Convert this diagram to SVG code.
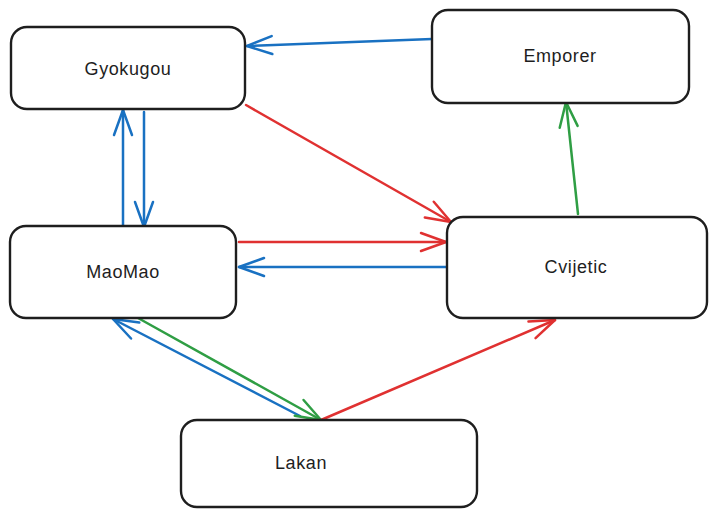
<svg xmlns="http://www.w3.org/2000/svg" width="717" height="518" viewBox="0 0 717 518">
<style>
.box{fill:#ffffff;stroke:#1e1e1e;stroke-width:2.4}
.lbl{font-family:"Liberation Sans","DejaVu Sans",sans-serif;font-size:18px;letter-spacing:0.6px;fill:#1e1e1e;text-anchor:middle;dominant-baseline:central}
.e{fill:none;stroke-width:2.5;stroke-linecap:round;stroke-linejoin:round}
.b{stroke:#1971c2;marker-end:url(#mb)}
.r{stroke:#e03131;marker-end:url(#mr)}
.g{stroke:#2f9e44;marker-end:url(#mg)}
</style>
<defs>
<marker id="mb" markerUnits="userSpaceOnUse" markerWidth="32" markerHeight="26" viewBox="-28 -13 32 26" refX="0" refY="0" orient="auto" overflow="visible"><path d="M-25,-9 L0,0 L-25,9" fill="none" stroke="#1971c2" stroke-width="2.5" stroke-linecap="round" stroke-linejoin="round"/></marker>
<marker id="mr" markerUnits="userSpaceOnUse" markerWidth="32" markerHeight="26" viewBox="-28 -13 32 26" refX="0" refY="0" orient="auto" overflow="visible"><path d="M-25,-9 L0,0 L-25,9" fill="none" stroke="#e03131" stroke-width="2.5" stroke-linecap="round" stroke-linejoin="round"/></marker>
<marker id="mg" markerUnits="userSpaceOnUse" markerWidth="32" markerHeight="26" viewBox="-28 -13 32 26" refX="0" refY="0" orient="auto" overflow="visible"><path d="M-25,-9 L0,0 L-25,9" fill="none" stroke="#2f9e44" stroke-width="2.5" stroke-linecap="round" stroke-linejoin="round"/></marker>
</defs>
<rect width="717" height="518" fill="#ffffff"/>
<g id="connectors">
<path class="e b" d="M432,39 L247,46"/>
<path class="e r" d="M246,105 L451,222"/>
<path class="e b" d="M123,225 L123,110"/>
<path class="e b" d="M144,112 L144,227"/>
<path class="e r" d="M239,242 L446,242"/>
<path class="e b" d="M446,267 L239,267"/>
<path class="e g" d="M578,214 L566,102"/>
<path class="e b" d="M300,416 L113,319"/>
<path class="e g" d="M138,318 L321,420"/>
<path class="e r" d="M321,420 L555,320"/>
</g>
<g id="gyokugou">
<rect class="box" x="11" y="27" width="234" height="82" rx="16"/>
<text class="lbl" x="128" y="69">Gyokugou</text>
</g>
<g id="emporer">
<rect class="box" x="432" y="10" width="257" height="93" rx="16"/>
<text class="lbl" x="560" y="56">Emporer</text>
</g>
<g id="maomao">
<rect class="box" x="10" y="226" width="226" height="92" rx="16"/>
<text class="lbl" x="123" y="272">MaoMao</text>
</g>
<g id="cvijetic">
<rect class="box" x="447" y="217" width="260" height="101" rx="16"/>
<text class="lbl" x="576" y="267">Cvijetic</text>
</g>
<g id="lakan">
<rect class="box" x="181" y="420" width="296" height="87" rx="16"/>
<text class="lbl" x="301" y="463">Lakan</text>
</g>
</svg>
